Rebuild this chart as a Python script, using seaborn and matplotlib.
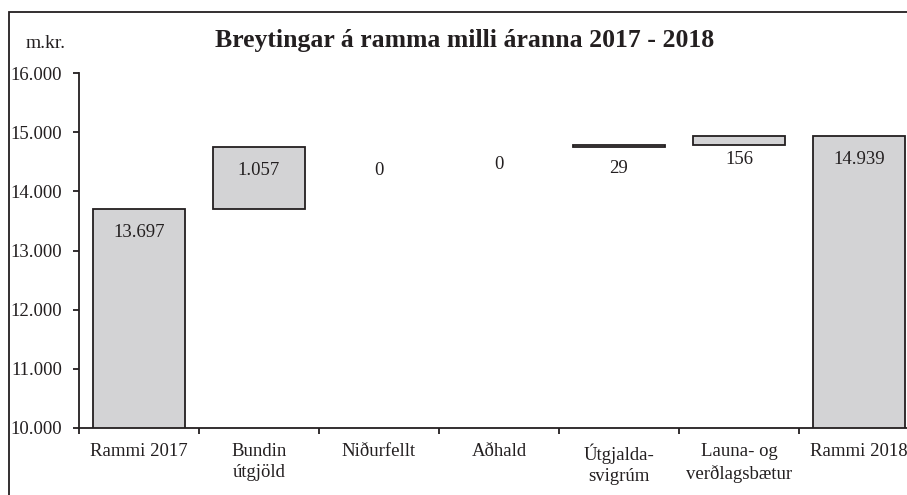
import numpy as np
import pandas as pd
import matplotlib
matplotlib.use("Agg")
import matplotlib.pyplot as plt
import seaborn as sns
from matplotlib.patches import Rectangle

categories = ["Rammi 2017", "Bundin\nútgjöld", "Niðurfellt", "Aðhald",
              "Útgjalda-\nsvigrúm", "Launa- og\nverðlagsbætur", "Rammi 2018"]
changes = [13697, 1057, 0, 0, 29, 156, 14939]
is_total = [True, False, False, False, False, False, True]
value_labels = ["13.697", "1.057", "0", "0", "29", "156", "14.939"]
yticks = [10000, 11000, 12000, 13000, 14000, 15000, 16000]
ytick_labels = ["10.000", "11.000", "12.000", "13.000", "14.000", "15.000", "16.000"]

# waterfall bases
bases = []
running = 0
for v, t in zip(changes, is_total):
    if t:
        bases.append(0)
        running = v
    else:
        bases.append(running)
        running += v
tops = [b + v for b, v in zip(bases, changes)]

df = pd.DataFrame({"cat": categories, "height": changes, "base": bases})

sns.set_theme(style="white")
plt.rcParams["font.family"] = ["Liberation Serif", "DejaVu Serif"]
txt = "#231f20"

fig = plt.figure(figsize=(9.07, 4.95), dpi=100)
ax = fig.add_axes([79/907, 1-428/495, 840/907, (428-73)/495])

sns.barplot(data=df, x="cat", y="height", bottom=df["base"].values, ax=ax,
            color="#d3d3d5", saturation=1, width=0.77,
            edgecolor="#231f20", linewidth=1.3, errorbar=None)
for p, h in zip(ax.patches, changes):
    if h == 0:
        p.set_visible(False)

ax.set_ylim(10000, 16000)
ax.set_xlim(-0.5, 6.5)
ax.set_yticks(yticks)
ax.set_yticklabels(ytick_labels)
ax.set_xticks(range(len(categories)))
ax.set_xticklabels(categories, linespacing=1.3)
ax.set_xticks(np.arange(-0.5, 7, 1), minor=True)
ax.tick_params(axis="x", which="major", length=0, pad=11, labelsize=13.5, labelcolor=txt)
ax.tick_params(axis="x", which="minor", length=4, width=1.3, color=txt, bottom=True)
ax.tick_params(axis="y", length=4, width=1.3, color=txt, pad=8, labelsize=13.5,
               labelcolor=txt, left=True)
ax.set_xlabel("")
ax.set_ylabel("")
for s in ["top", "right"]:
    ax.spines[s].set_visible(False)
for s in ["left", "bottom"]:
    ax.spines[s].set_color(txt)
    ax.spines[s].set_linewidth(1.3)

nudge = {3: 100}
for i, (t, lab) in enumerate(zip(tops, value_labels)):
    y = t - 400 + nudge.get(i, 0)
    ax.text(i, y, lab, ha="center", va="center", fontsize=13.5, color=txt)

fig.text(465/907, 1-41/495, "Breytingar á ramma milli áranna 2017 - 2018",
         ha="center", va="center", fontsize=18.5, fontweight="bold", color=txt)
fig.text(46/907, 1-43/495, "m.kr.", ha="center", va="center", fontsize=14, color=txt)

fig.patches.append(Rectangle((9/907, -0.1), 1.2, 1 - 12/495 + 0.1,
                             transform=fig.transFigure, fill=False,
                             edgecolor=txt, linewidth=1.3))

fig.savefig("out.png", dpi=100)
